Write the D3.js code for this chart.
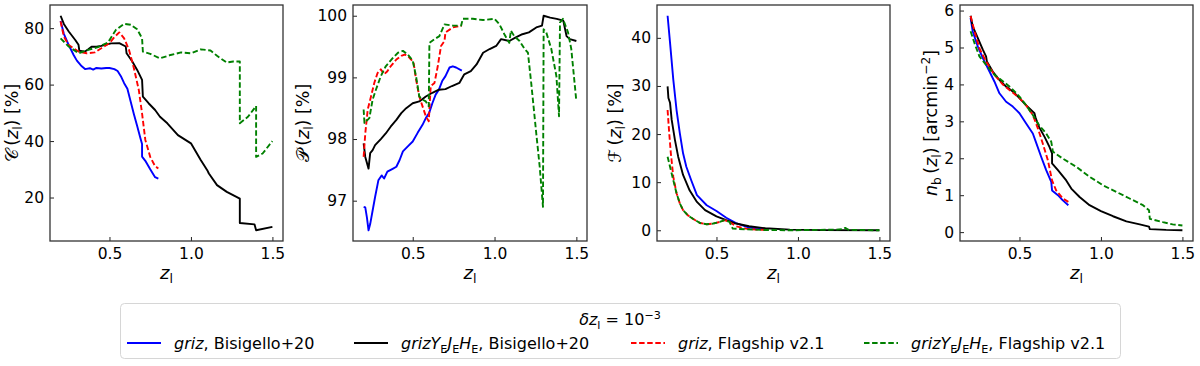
<!DOCTYPE html>
<html>
<head>
<meta charset="utf-8">
<script src="https://cdn.jsdelivr.net/npm/d3@7"></script>
<style>
  body { margin: 0; background: #fff; font-family: "DejaVu Sans", sans-serif; }
  .tick text { font-size: 15.5px; fill: #000; font-family: "DejaVu Sans", sans-serif; }
  .tick line { stroke: #222; stroke-width: 1; }
</style>
</head>
<body>
<svg id="fig" width="1200" height="366"></svg>
<script>
// --- completeness C(z) [%] ---
const compBlue = [[0.20,82.5],[0.22,78],[0.25,74],[0.28,70.5],[0.30,68.5],[0.33,66.5],[0.35,65.5],[0.38,65.8],[0.40,65.3],[0.42,65.9],[0.45,65.7],[0.48,65.9],[0.50,65.9],[0.53,65.5],[0.55,64.8],[0.57,63],[0.59,60.5],[0.61,58.5],[0.63,54],[0.65,49.5],[0.67,45.3],[0.69,41],[0.70,39],[0.70,34.5],[0.72,33],[0.75,30],[0.78,27.2],[0.80,26.7]];
const compBlack = [[0.20,84.4],[0.22,81.5],[0.25,78.8],[0.29,75.8],[0.31,74.1],[0.315,72],[0.35,71.7],[0.37,72.5],[0.39,73.4],[0.42,73.4],[0.45,73.7],[0.48,74.2],[0.51,74.6],[0.56,74.7],[0.60,73.5],[0.605,71.1],[0.64,68.2],[0.67,65.2],[0.70,61.7],[0.705,55.7],[0.74,53.4],[0.78,51],[0.81,48.6],[0.855,46.3],[0.92,42.1],[1.0,39.2],[1.06,33.3],[1.10,29.7],[1.11,28.5],[1.16,24.4],[1.22,22],[1.30,19.6],[1.30,11],[1.39,10.5],[1.40,8.4],[1.50,9.6]];
const compRed = [[0.20,82.4],[0.22,77],[0.25,74],[0.31,71.7],[0.36,71.1],[0.41,71.4],[0.45,72.9],[0.50,74.7],[0.53,76.8],[0.56,78.5],[0.59,76.4],[0.62,72.3],[0.65,65.8],[0.68,58.1],[0.70,49.8],[0.72,40.4],[0.75,34.4],[0.78,31.1],[0.80,30.3]];
const compGreen = [[0.20,76.4],[0.25,73.5],[0.31,71.1],[0.37,72.3],[0.43,73.3],[0.49,74.9],[0.54,79.4],[0.59,81.5],[0.63,81.2],[0.67,79.6],[0.70,76.4],[0.705,71.7],[0.75,70.9],[0.81,69.3],[0.875,70.5],[0.94,71.4],[1.0,71.1],[1.06,72.5],[1.12,72.1],[1.16,70.2],[1.22,67.8],[1.26,68.2],[1.30,68.2],[1.30,46.3],[1.35,48.6],[1.40,52.4],[1.40,34.4],[1.44,35.6],[1.50,40]];

// --- purity P(z) [%] ---
const purBlue = [[0.20,96.9],[0.21,96.89],[0.22,96.73],[0.23,96.52],[0.24,96.62],[0.255,96.84],[0.27,97.06],[0.29,97.33],[0.31,97.41],[0.325,97.36],[0.345,97.47],[0.38,97.52],[0.40,97.55],[0.42,97.66],[0.44,97.8],[0.47,97.88],[0.50,97.96],[0.53,98.1],[0.56,98.23],[0.58,98.34],[0.60,98.42],[0.62,98.58],[0.64,98.72],[0.66,98.8],[0.68,98.94],[0.70,99.02],[0.725,99.16],[0.745,99.18],[0.765,99.16],[0.80,99.11]];
const purBlack = [[0.20,97.93],[0.21,97.71],[0.23,97.52],[0.24,97.77],[0.255,97.82],[0.27,97.9],[0.305,98.0],[0.335,98.09],[0.365,98.2],[0.40,98.31],[0.43,98.42],[0.46,98.5],[0.50,98.58],[0.54,98.61],[0.58,98.69],[0.62,98.75],[0.66,98.8],[0.70,98.81],[0.74,98.86],[0.785,98.91],[0.815,99.05],[0.855,99.1],[0.89,99.21],[0.93,99.4],[0.97,99.46],[1.01,99.51],[1.04,99.62],[1.09,99.59],[1.13,99.65],[1.17,99.7],[1.21,99.73],[1.255,99.81],[1.29,99.84],[1.30,100],[1.34,99.97],[1.38,99.95],[1.42,99.92],[1.44,99.67],[1.46,99.62],[1.50,99.59]];
const purRed = [[0.20,97.71],[0.21,98.09],[0.225,98.48],[0.245,98.69],[0.265,98.91],[0.285,99.07],[0.305,99.13],[0.325,99.05],[0.345,99.1],[0.365,99.18],[0.40,99.29],[0.43,99.35],[0.45,99.37],[0.47,99.35],[0.49,99.29],[0.505,99.24],[0.52,98.97],[0.54,98.69],[0.56,98.53],[0.58,98.37],[0.598,98.29],[0.61,98.86],[0.633,98.91],[0.653,99.18],[0.673,99.51],[0.694,99.59],[0.70,99.73],[0.745,99.81],[0.80,99.84]];
const purGreen = [[0.20,98.48],[0.205,98.26],[0.235,98.34],[0.255,98.64],[0.275,98.8],[0.305,99.02],[0.335,99.18],[0.38,99.32],[0.41,99.4],[0.44,99.43],[0.47,99.37],[0.50,99.27],[0.52,99.02],[0.54,98.69],[0.56,98.64],[0.58,98.61],[0.598,98.53],[0.602,99.56],[0.633,99.62],[0.663,99.67],[0.694,99.86],[0.745,99.84],[0.796,99.84],[0.806,99.95],[0.867,99.95],[0.93,99.93],[1.0,99.95],[1.03,99.86],[1.06,99.7],[1.09,99.56],[1.10,99.76],[1.12,99.67],[1.153,99.59],[1.184,99.46],[1.204,99.4],[1.224,98.91],[1.255,98.09],[1.276,97.55],[1.296,96.9],[1.30,99.78],[1.316,99.73],[1.347,99.46],[1.378,99.02],[1.394,98.37],[1.40,99.89],[1.418,99.95],[1.449,99.73],[1.469,99.46],[1.50,98.61]];

// --- fraction F(z) [%] ---
const fracBlue = [[0.20,44.6],[0.215,39],[0.235,31.3],[0.255,25],[0.275,20.2],[0.295,16],[0.315,13.2],[0.345,10.4],[0.38,7.3],[0.44,5.2],[0.50,4.0],[0.56,2.6],[0.62,1.5],[0.70,0.56],[0.785,0.3],[0.80,0.25]];
const fracBlack = [[0.20,29.9],[0.205,27.5],[0.215,26.5],[0.225,23],[0.245,18.8],[0.265,15.3],[0.295,11.5],[0.335,8.3],[0.38,5.9],[0.43,4.2],[0.50,2.9],[0.56,2.1],[0.62,1.4],[0.70,0.83],[0.80,0.42],[0.95,0.14],[1.15,0.03],[1.50,0]];
const fracRed = [[0.20,25],[0.21,20.2],[0.22,16],[0.235,11.1],[0.255,7.7],[0.275,5.6],[0.295,4.2],[0.325,3.1],[0.355,2.4],[0.40,1.5],[0.44,1.25],[0.48,1.4],[0.52,1.74],[0.55,2.1],[0.58,1.74],[0.62,0.83],[0.68,0.35],[0.745,0.14],[0.80,0.07]];
const fracGreen = [[0.20,15.3],[0.215,13.2],[0.235,10.4],[0.255,7.7],[0.275,5.6],[0.295,4.2],[0.325,3.1],[0.355,2.4],[0.40,1.5],[0.44,1.25],[0.48,1.4],[0.52,1.74],[0.55,2.1],[0.58,1.74],[0.60,0.35],[0.68,0.2],[0.785,0.07],[0.95,0],[1.235,0.14],[1.28,0.28],[1.29,0.5],[1.31,0.1],[1.50,0]];

// --- number density n_b(z) [arcmin^-2] ---
const densBlue = [[0.20,5.8],[0.213,5.44],[0.244,5.03],[0.275,4.71],[0.316,4.35],[0.346,4.08],[0.377,3.76],[0.418,3.53],[0.459,3.4],[0.50,3.22],[0.54,2.95],[0.582,2.67],[0.60,2.45],[0.633,2.04],[0.664,1.68],[0.695,1.36],[0.70,1.13],[0.736,1.0],[0.766,0.86],[0.80,0.73]];
const densBlack = [[0.20,5.86],[0.213,5.57],[0.244,5.26],[0.275,4.94],[0.295,4.76],[0.30,4.62],[0.336,4.35],[0.377,4.12],[0.418,3.94],[0.459,3.81],[0.50,3.63],[0.54,3.44],[0.592,3.22],[0.60,3.08],[0.62,2.85],[0.654,2.58],[0.684,2.31],[0.70,2.13],[0.70,1.86],[0.736,1.68],[0.787,1.4],[0.818,1.18],[0.869,0.95],[0.93,0.73],[1.0,0.57],[1.074,0.43],[1.156,0.29],[1.238,0.21],[1.295,0.15],[1.30,0.08],[1.40,0.06],[1.50,0.05]];
const densRed = [[0.20,5.85],[0.227,5.39],[0.254,4.98],[0.295,4.62],[0.346,4.26],[0.40,3.99],[0.45,3.81],[0.50,3.63],[0.54,3.44],[0.582,3.17],[0.613,2.81],[0.643,2.4],[0.674,1.95],[0.70,1.4],[0.725,1.13],[0.766,0.91],[0.80,0.82]];
const densGreen = [[0.20,5.44],[0.227,5.08],[0.254,4.76],[0.295,4.53],[0.346,4.26],[0.40,4.08],[0.45,3.9],[0.50,3.67],[0.54,3.44],[0.582,3.17],[0.62,2.9],[0.664,2.67],[0.695,2.45],[0.705,2.18],[0.766,1.99],[0.848,1.77],[0.93,1.5],[1.012,1.27],[1.094,1.09],[1.176,0.91],[1.258,0.73],[1.295,0.59],[1.30,0.36],[1.38,0.27],[1.44,0.21],[1.50,0.18]];

const xTicks = [0.5, 1.0, 1.5];
const compTicks = [20, 40, 60, 80];
const purTicks = [97, 98, 99, 100];
const fracTicks = [0, 10, 20, 30, 40];
const densTicks = [0, 1, 2, 3, 4, 5, 6];

const seriesColors = ["#0000ff", "#000000", "#ff0000", "#008000"];
const seriesDash = [null, null, "5.5,2.6", "5.5,2.6"];

const svg = d3.select("#fig");
const plotTop = 5, plotBottom = 241;

// rich text helper: parts = [text, {i: italic, sub, sup}]
function rich(sel, parts, size) {
    let shift = 0;
    parts.forEach(p => {
        const opt = typeof p === "string" ? { t: p } : p;
        let target = 0, fs = size;
        if (opt.sub) { target = size * 0.22; fs = size * 0.7; }
        if (opt.sup) { target = -size * 0.38; fs = size * 0.7; }
        sel.append("tspan")
            .attr("dy", target - shift)
            .attr("font-size", fs)
            .attr("font-style", opt.i ? "italic" : "normal")
            .text(opt.t);
        shift = target;
    });
}

const zl = [{ t: "z", i: true }, { t: "l", sub: true }];

const panels = [
    { left: 50, right: 283, data: [compBlue, compBlack, compRed, compGreen], ticks: compTicks, labX: 12,
      label: ["\u{1D49E}\u2009(", ...zl, ") [%]"] },
    { left: 353, right: 587, data: [purBlue, purBlack, purRed, purGreen], ticks: purTicks, labX: 303,
      label: ["\u{1D4AB}\u2009(", ...zl, ") [%]"] },
    { left: 657, right: 890, data: [fracBlue, fracBlack, fracRed, fracGreen], ticks: fracTicks, labX: 615,
      label: ["\u2131\u2009(", ...zl, ") [%]"] },
    { left: 960, right: 1193, data: [densBlue, densBlack, densRed, densGreen], ticks: densTicks, labX: 931,
      label: [{ t: "n", i: true }, { t: "b", sub: true }, "\u2009(", ...zl, ") [arcmin", { t: "\u22122", sup: true }, "]"] }
];

panels.forEach((p, k) => {
    const all = p.data.flat();
    const xe = d3.extent(all, d => d[0]), ye = d3.extent(all, d => d[1]);
    const xp = (xe[1] - xe[0]) * 0.05, yp = (ye[1] - ye[0]) * 0.05;

    const x = d3.scaleLinear().domain([xe[0] - xp, xe[1] + xp]).range([p.left, p.right]);
    const y = d3.scaleLinear().domain([ye[0] - yp, ye[1] + yp]).range([plotBottom, plotTop]);

    const g = svg.append("g");

    svg.append("clipPath").attr("id", "clip" + k)
        .append("rect").attr("x", p.left).attr("y", plotTop)
        .attr("width", p.right - p.left).attr("height", plotBottom - plotTop);

    const line = d3.line().x(d => x(d[0])).y(d => y(d[1]));
    const lines = g.append("g").attr("clip-path", `url(#clip${k})`);
    p.data.forEach((s, i) => {
        lines.append("path")
            .attr("d", line(s))
            .attr("fill", "none")
            .attr("stroke", seriesColors[i])
            .attr("stroke-width", 1.9)
            .attr("stroke-linejoin", "round")
            .attr("stroke-dasharray", seriesDash[i]);
    });

    // axes with inward ticks
    const ax = g.append("g").attr("transform", `translate(0,${plotBottom})`)
        .call(d3.axisBottom(x).tickValues(xTicks).tickFormat(d3.format(".1f")).tickSize(-4).tickPadding(7));
    const ay = g.append("g").attr("transform", `translate(${p.left},0)`)
        .call(d3.axisLeft(y).tickValues(p.ticks).tickFormat(d3.format("d")).tickSize(-4).tickPadding(6));
    ax.select(".domain").remove();
    ay.select(".domain").remove();

    g.append("rect")
        .attr("x", p.left).attr("y", plotTop)
        .attr("width", p.right - p.left).attr("height", plotBottom - plotTop)
        .attr("fill", "none").attr("stroke", "#333").attr("stroke-width", 1.3);

    // x label
    const xl = g.append("text")
        .attr("x", (p.left + p.right) / 2).attr("y", 279)
        .attr("text-anchor", "middle").attr("font-size", 18);
    rich(xl, zl, 18);

    // y label
    const yl = g.append("text")
        .attr("transform", `translate(${p.labX + 6},${(plotTop + plotBottom) / 2}) rotate(-90)`)
        .attr("text-anchor", "middle").attr("font-size", 17.5);
    rich(yl, p.label, 17.5);
});

// --- legend ---
const leg = svg.append("g");
leg.append("rect")
    .attr("x", 120.5).attr("y", 303.5).attr("width", 1000).attr("height", 55)
    .attr("rx", 4).attr("fill", "#fff").attr("stroke", "#d6d6d6").attr("stroke-width", 1);

const title = leg.append("text").attr("x", 620).attr("y", 325)
    .attr("text-anchor", "middle").attr("font-size", 16);
rich(title, [{ t: "\u03B4", i: true }, { t: "z", i: true }, { t: "l", sub: true }, " = 10", { t: "\u22123", sup: true }], 16);

const E = { t: "E", sub: true };
const legendItems = [
    { x: 127, parts: [{ t: "griz", i: true }, ", Bisigello+20"] },
    { x: 354, parts: [{ t: "grizY", i: true }, E, { t: "J", i: true }, E, { t: "H", i: true }, E, ", Bisigello+20"] },
    { x: 631, parts: [{ t: "griz", i: true }, ", Flagship v2.1"] },
    { x: 864, parts: [{ t: "grizY", i: true }, E, { t: "J", i: true }, E, { t: "H", i: true }, E, ", Flagship v2.1"] }
];
legendItems.forEach((it, i) => {
    leg.append("line")
        .attr("x1", it.x).attr("x2", it.x + 34).attr("y1", 343).attr("y2", 343)
        .attr("stroke", seriesColors[i]).attr("stroke-width", 1.9)
        .attr("stroke-dasharray", seriesDash[i]);
    const t = leg.append("text").attr("x", it.x + 47).attr("y", 349).attr("font-size", 16);
    rich(t, it.parts, 16);
});
</script>
</body>
</html>
